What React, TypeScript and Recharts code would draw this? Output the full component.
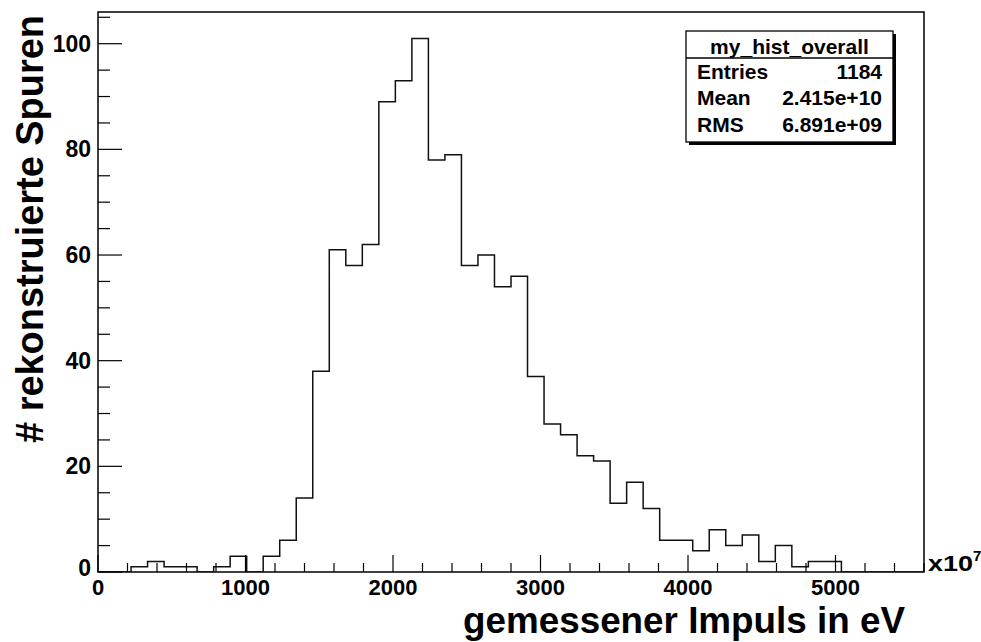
import React from 'react'
import {
  ComposedChart,
  Line,
  XAxis,
  YAxis,
  ReferenceArea
} from 'recharts'

const FONT = '"Liberation Sans", Arial, Helvetica, sans-serif'

// histogram: 50 bins of 112 (x10^7 eV) from 0 to 5600
const BIN_WIDTH = 112
const X_DOMAIN: [number, number] = [0, 5600]
const Y_DOMAIN: [number, number] = [0, 106]

const binCounts = [
  0, 0, 1, 2, 1, 1, 0, 1, 3, 0,
  3, 6, 14, 38, 61, 58, 62, 89, 93, 101,
  78, 79, 58, 60, 54, 56, 37, 28, 26, 22,
  21, 13, 17, 12, 6, 6, 4, 8, 5, 7,
  2, 5, 1, 2, 2, 0, 0, 0, 0, 0
]

const xTicks = [
  0, 200, 400, 600, 800, 1000, 1200, 1400, 1600, 1800,
  2000, 2200, 2400, 2600, 2800, 3000, 3200, 3400, 3600, 3800,
  4000, 4200, 4400, 4600, 4800, 5000, 5200, 5400, 5600
]
const yTicks = [
  0, 5, 10, 15, 20, 25, 30, 35, 40, 45, 50,
  55, 60, 65, 70, 75, 80, 85, 90, 95, 100, 105
]

const xTitle = 'gemessener Impuls in eV'
const yTitle = '# rekonstruierte Spuren'

const statsTitle = 'my_hist_overall'
const statsLabels = ['Entries', 'Mean', 'RMS']
const statsValues = ['1184', '2.415e+10', '6.891e+09']

// step line needs the left edge of each bin plus the closing edge
const histData = binCounts.map((c, i) => ({ x: i * BIN_WIDTH, y: c }))
histData.push({ x: X_DOMAIN[1], y: binCounts[binCounts.length - 1] })

const W = 981
const H = 642
const PLOT_LEFT = 98
const PLOT_TOP = 12
const PLOT_RIGHT = 924
const PLOT_BOTTOM = 572
const AXIS_SIZE = 20

const XTick = (props: any) => {
  const { x, payload } = props
  const v = payload.value
  const major = v % 1000 === 0
  return (
    <g>
      <line
        x1={x}
        x2={x}
        y1={PLOT_BOTTOM}
        y2={PLOT_BOTTOM - (major ? 17 : 9)}
        stroke="#000"
        strokeWidth={1.2}
      />
      {major && (
        <text
          x={x}
          y={595}
          textAnchor="middle"
          fontSize={22}
          fontWeight="bold"
          fontFamily={FONT}
          fill="#000"
        >
          {v}
        </text>
      )}
    </g>
  )
}

const YTick = (props: any) => {
  const { y, payload } = props
  const v = payload.value
  const major = v % 20 === 0
  return (
    <g>
      <line
        x1={PLOT_LEFT}
        x2={PLOT_LEFT + (major ? 24 : 12)}
        y1={y}
        y2={y}
        stroke="#000"
        strokeWidth={1.2}
      />
      {major && (
        <text
          x={91}
          y={v === 0 ? y + 4 : y + 8}
          textAnchor="end"
          fontSize={23}
          fontWeight="bold"
          fontFamily={FONT}
          fill="#000"
        >
          {v}
        </text>
      )}
    </g>
  )
}

function Titles() {
  return (
    <svg
      width={W}
      height={H}
      style={{ position: 'absolute', left: 0, top: 0, pointerEvents: 'none' }}
    >
      <g fontFamily={FONT} fontWeight="bold" fill="#000">
        <text x={905} y={633} textAnchor="end" fontSize={36} textLength={442} lengthAdjust="spacingAndGlyphs">
          {xTitle}
        </text>
        <text x={928} y={571} fontSize={22} textLength={45} lengthAdjust="spacingAndGlyphs">
          x10
        </text>
        <text x={973} y={561} fontSize={15}>
          7
        </text>
        <text
          x={43}
          y={229}
          transform="rotate(-90 43 229)"
          textAnchor="middle"
          fontSize={39}
          textLength={428}
          lengthAdjust="spacingAndGlyphs"
        >
          {yTitle}
        </text>
      </g>
    </svg>
  )
}

function StatsBox() {
  const left = 686
  const top = 31
  const w = 207
  const h = 111
  return (
    <svg
      width={W}
      height={H}
      style={{ position: 'absolute', left: 0, top: 0, pointerEvents: 'none' }}
    >
      <rect x={left + 3} y={top + 3} width={w} height={h} fill="#000" />
      <rect x={left} y={top} width={w} height={h} fill="#fff" stroke="#000" strokeWidth={1.3} />
      <line x1={left} x2={left + w} y1={58} y2={58} stroke="#000" strokeWidth={1.3} />
      <g fontFamily={FONT} fontWeight="bold" fontSize={21} fill="#000">
        <text x={left + w / 2} y={53.5} textAnchor="middle">
          {statsTitle}
        </text>
        {statsLabels.map((lab, i) => (
          <g key={lab}>
            <text x={697} y={78.5 + i * 26.6}>{lab}</text>
            <text x={882} y={78.5 + i * 26.6} textAnchor="end">
              {statsValues[i]}
            </text>
          </g>
        ))}
      </g>
    </svg>
  )
}

export default function App() {
  return (
    <div style={{ position: 'absolute', left: 0, top: 0, width: W, height: H, background: '#fff' }}>
      <ComposedChart
        width={W}
        height={H}
        data={histData}
        margin={{
          top: PLOT_TOP,
          right: W - PLOT_RIGHT,
          bottom: H - PLOT_BOTTOM - AXIS_SIZE,
          left: PLOT_LEFT - AXIS_SIZE
        }}
      >
        <XAxis
          dataKey="x"
          type="number"
          domain={X_DOMAIN}
          allowDataOverflow
          ticks={xTicks}
          interval={0}
          height={AXIS_SIZE}
          tickLine={false}
          axisLine={false}
          tick={XTick}
        />
        <YAxis
          type="number"
          domain={Y_DOMAIN}
          allowDataOverflow
          ticks={yTicks}
          interval={0}
          width={AXIS_SIZE}
          tickLine={false}
          axisLine={false}
          tick={YTick}
        />
        <ReferenceArea
          x1={X_DOMAIN[0]}
          x2={X_DOMAIN[1]}
          y1={Y_DOMAIN[0]}
          y2={Y_DOMAIN[1]}
          fill="none"
          fillOpacity={0}
          stroke="#000"
          strokeWidth={1.5}
          strokeOpacity={1}
        />
        <Line
          dataKey="y"
          type="stepAfter"
          stroke="#111"
          strokeWidth={1.5}
          dot={false}
          activeDot={false}
          isAnimationActive={false}
        />
      </ComposedChart>
      <Titles />
      <StatsBox />
    </div>
  )
}
